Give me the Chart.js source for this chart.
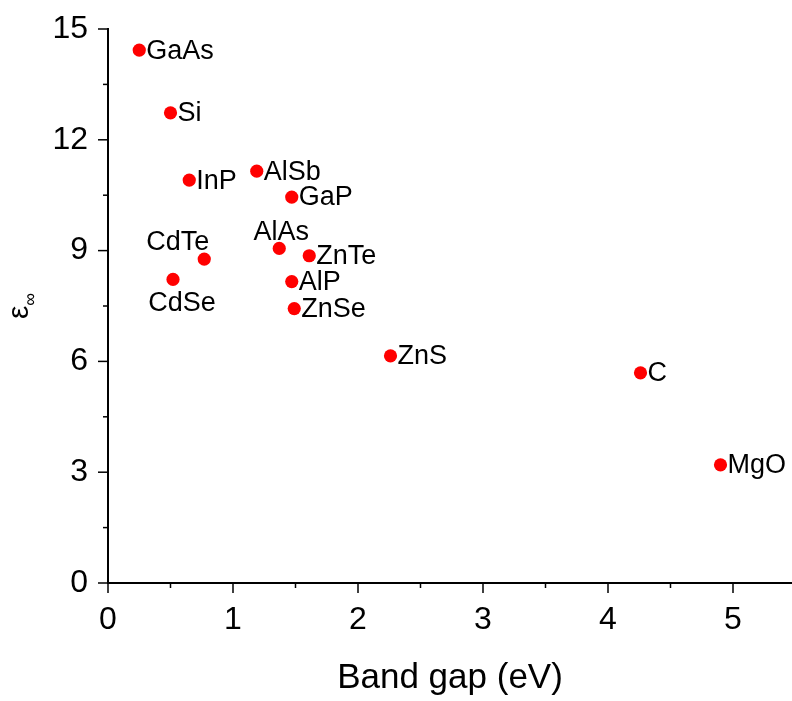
<!DOCTYPE html>
<html>
<head>
<meta charset="utf-8">
<script src="https://cdn.jsdelivr.net/npm/chart.js@4/dist/chart.umd.min.js"></script>
<style>
  html, body { margin: 0; padding: 0; background: #fff; }
  #wrap { width: 792px; height: 701px; }
</style>
</head>
<body>
<div id="wrap"><canvas id="gapChart"></canvas></div>
<script>
// values
const materials = ['GaAs', 'Si', 'InP', 'AlSb', 'GaP', 'AlAs', 'ZnTe', 'CdTe', 'CdSe', 'AlP', 'ZnSe', 'ZnS', 'C', 'MgO'];
const bandGap = [0.25, 0.50, 0.65, 1.19, 1.47, 1.37, 1.61, 0.77, 0.52, 1.47, 1.49, 2.26, 4.26, 4.90];
const epsInf = [14.43, 12.73, 10.91, 11.15, 10.45, 9.06, 8.86, 8.77, 8.22, 8.16, 7.43, 6.15, 5.69, 3.20];

const FONT = "'Liberation Sans', Arial, sans-serif";

// labels that are not placed to the right of their point
const labelPlace = {
    CdTe: { align: 'right', dx: 5, dy: -17 },
    AlAs: { align: 'center', dx: 2, dy: -16 },
    CdSe: { align: 'center', dx: 9, dy: 24 }
};

const pointLabels = {
    id: 'pointLabels',
    afterDatasetsDraw(chart) {
        const ctx = chart.ctx;
        const meta = chart.getDatasetMeta(0);
        ctx.save();
        ctx.fillStyle = '#000';
        ctx.font = '27px ' + FONT;
        ctx.textBaseline = 'middle';
        meta.data.forEach((pt, i) => {
            const name = materials[i];
            const p = labelPlace[name] || { align: 'left', dx: 7, dy: 1 };
            ctx.textAlign = p.align;
            ctx.fillText(name, pt.x + p.dx, pt.y + p.dy);
        });
        ctx.restore();
    }
};

// outward major/minor tick marks and the y title
const axisDecor = {
    id: 'axisDecor',
    afterDraw(chart) {
        const ctx = chart.ctx;
        const xs = chart.scales.x, ys = chart.scales.y;
        const area = chart.chartArea;
        ctx.save();
        ctx.strokeStyle = '#000';
        ctx.lineWidth = 1.5;
        xs.ticks.forEach(t => {
            const major = Math.abs(t.value - Math.round(t.value)) < 1e-6;
            const px = xs.getPixelForValue(t.value);
            ctx.beginPath();
            ctx.moveTo(px, area.bottom);
            ctx.lineTo(px, area.bottom + (major ? 10 : 5));
            ctx.stroke();
        });
        ys.ticks.forEach(t => {
            const major = Math.abs(t.value / 3 - Math.round(t.value / 3)) < 1e-6;
            const py = ys.getPixelForValue(t.value);
            ctx.beginPath();
            ctx.moveTo(area.left, py);
            ctx.lineTo(area.left - (major ? 10 : 5), py);
            ctx.stroke();
        });

        // ε∞ with subscript, rotated
        ctx.translate(28, (area.top + area.bottom) / 2);
        ctx.rotate(-Math.PI / 2);
        ctx.fillStyle = '#000';
        ctx.textBaseline = 'alphabetic';
        ctx.textAlign = 'left';
        ctx.font = '30px ' + FONT;
        const w1 = ctx.measureText('ε').width;
        ctx.font = '18px ' + FONT;
        const w2 = ctx.measureText('∞').width;
        const x0 = -(w1 + w2) / 2;
        ctx.font = '30px ' + FONT;
        ctx.fillText('ε', x0, 0);
        ctx.font = '18px ' + FONT;
        ctx.fillText('∞', x0 + w1, 8);
        ctx.restore();
    }
};

new Chart(document.getElementById('gapChart'), {
    type: 'scatter',
    data: {
        datasets: [{
            data: bandGap.map((g, i) => ({ x: g, y: epsInf[i] })),
            backgroundColor: '#ff0000',
            borderColor: '#ff0000',
            borderWidth: 0,
            pointRadius: 6.6,
            pointHoverRadius: 6.6
        }]
    },
    options: {
        responsive: true,
        maintainAspectRatio: false,
        animation: false,
        layout: { autoPadding: false, padding: { top: 29, right: 0, left: 0, bottom: 0 } },
        plugins: {
            legend: { display: false },
            tooltip: { enabled: false }
        },
        scales: {
            x: {
                type: 'linear',
                min: 0,
                max: 5.472,
                afterFit: s => { s.height = 118; s.paddingLeft = 0; s.paddingRight = 0; },
                grid: { display: false, drawTicks: false },
                border: { display: true, color: '#000', width: 2 },
                ticks: {
                    stepSize: 0.5,
                    includeBounds: false,
                    autoSkip: false,
                    maxRotation: 0,
                    padding: 18,
                    color: '#000',
                    font: { family: FONT, size: 32 },
                    callback: v => Number.isInteger(v) ? String(v) : ''
                },
                title: {
                    display: true,
                    text: 'Band gap (eV)',
                    color: '#000',
                    font: { family: FONT, size: 35 },
                    padding: { top: 0, bottom: 2 }
                }
            },
            y: {
                type: 'linear',
                min: 0,
                max: 15,
                afterFit: s => { s.width = 108; s.paddingTop = 0; s.paddingBottom = 0; },
                grid: { display: false, drawTicks: false },
                border: { display: true, color: '#000', width: 2 },
                ticks: {
                    stepSize: 1.5,
                    includeBounds: false,
                    autoSkip: false,
                    padding: 20,
                    color: '#000',
                    font: { family: FONT, size: 32 },
                    callback: v => (Math.abs(v / 3 - Math.round(v / 3)) < 1e-6) ? String(Math.round(v)) : ''
                }
            }
        }
    },
    plugins: [pointLabels, axisDecor]
});
</script>
</body>
</html>
